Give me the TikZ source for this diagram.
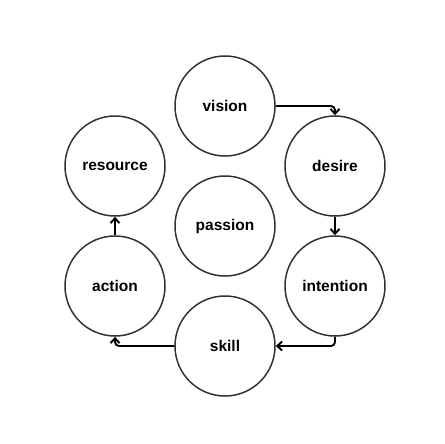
\documentclass[tikz,border=0pt]{standalone}
\usepackage{fontspec}
\setmainfont{Liberation Sans}
\usetikzlibrary{arrows.meta}
\begin{document}
\begin{tikzpicture}[x=1pt,y=-1pt,
  circ/.style={circle,draw=black!80,line width=1.5pt,minimum size=100pt,inner sep=0pt,font=\fontsize{15.5}{18}\selectfont\bfseries},
  conn/.style={line width=1.9pt,rounded corners=4pt,-{Straight Barb[length=5pt,width=9pt,line width=1.9pt]}}]
\useasboundingbox (0,0) rectangle (444,444);
\node[circ] (vision) at (225,106) {\raisebox{-1pt}{vision}};
\node[circ] (desire) at (335,166) {\raisebox{-1pt}{desire}};
\node[circ] (resource) at (115,166) {\raisebox{-1pt}{resource}};
\node[circ] (passion) at (225,226) {\raisebox{-1pt}{passion}};
\node[circ] (action) at (115,286) {\raisebox{-1pt}{action}};
\node[circ] (intention) at (335,286) {\raisebox{-1pt}{intention}};
\node[circ] (skill) at (225,346) {\raisebox{-1pt}{skill}};
\draw[conn] (vision.east) -| (desire.north);
\draw[conn] (desire.south) -- (intention.north);
\draw[conn] (intention.south) |- (skill.east);
\draw[conn] (skill.west) -| (action.south);
\draw[conn] (action.north) -- (resource.south);
\end{tikzpicture}
\end{document}
